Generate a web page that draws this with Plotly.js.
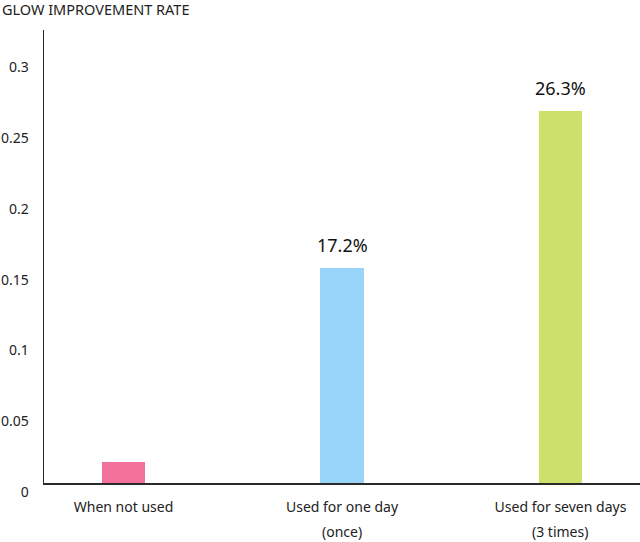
<!DOCTYPE html>
<html>
<head>
<meta charset="utf-8">
<script src="https://cdn.plot.ly/plotly-3.0.1.min.js"></script>
<style>html,body{margin:0;padding:0;background:#fff;}#chart{width:640px;height:542px;}</style>
</head>
<body>
<div id="chart"></div>
<script>
const categories = ["When not used", "Used for one day", "Used for seven days"];
const subLabels = ["", "(once)", "(3 times)"];
const values = [0.015, 0.152, 0.263];
const valueLabels = ["", "17.2%", "26.3%"];
const barColors = ["#F2719B", "#98D4F9", "#CDE06A"];
const yTicks = [0, 0.05, 0.1, 0.15, 0.2, 0.25, 0.3];
const yTickText = ["0", "0.05", "0.1", "0.15", "0.2", "0.25", "0.3"];
const FONT = "Noto Sans, Open Sans, sans-serif";

const idx = categories.map((c, i) => i);

const trace = {
  type: "bar",
  x: idx,
  y: values,
  width: 0.2,
  marker: {color: barColors, line: {width: 0}},
  hoverinfo: "none"
};

const subAnnotations = subLabels.map((s, i) => ({
  x: i, y: 0, xref: "x", yref: "y",
  text: s, showarrow: false,
  yshift: -48, yanchor: "middle", xanchor: "center",
  font: {family: FONT, size: 14, color: "#222"}
})).filter(a => a.text !== "");

const valueAnnotations = valueLabels.map((s, i) => ({
  x: i, y: values[i], xref: "x", yref: "y",
  text: s, showarrow: false,
  yshift: 23, yanchor: "middle", xanchor: "center",
  font: {family: FONT, size: 18, color: "#111"}
})).filter(a => a.text !== "");

const layout = {
  width: 640, height: 542,
  margin: {l: 44, r: 0, t: 30, b: 59},
  paper_bgcolor: "#fff", plot_bgcolor: "#fff",
  showlegend: false,
  bargap: 0,
  title: {
    text: "GLOW IMPROVEMENT RATE",
    x: 0.003, xref: "container", xanchor: "left",
    y: 1 - 10/542, yref: "container", yanchor: "middle",
    font: {family: FONT, size: 14.5, color: "#222"}
  },
  xaxis: {
    range: [-0.364, 2.364],
    tickmode: "array", tickvals: idx, ticktext: categories,
    showline: true, linecolor: "#2a2a2a", linewidth: 1.5,
    showgrid: false, zeroline: false, ticks: "",
    ticklabelstandoff: 11,
    tickfont: {family: FONT, size: 14, color: "#222"},
    fixedrange: true
  },
  yaxis: {
    range: [0, 0.32],
    tickmode: "array", tickvals: yTicks, ticktext: yTickText,
    showline: true, linecolor: "#2a2a2a", linewidth: 1.5,
    showgrid: false, zeroline: false, ticks: "",
    ticklabelstandoff: 11, ticklabelshift: 9,
    tickfont: {family: FONT, size: 14, color: "#222"},
    fixedrange: true
  },
  annotations: subAnnotations.concat(valueAnnotations)
};

Plotly.newPlot("chart", [trace], layout, {displayModeBar: false, staticPlot: true});
</script>
</body>
</html>
